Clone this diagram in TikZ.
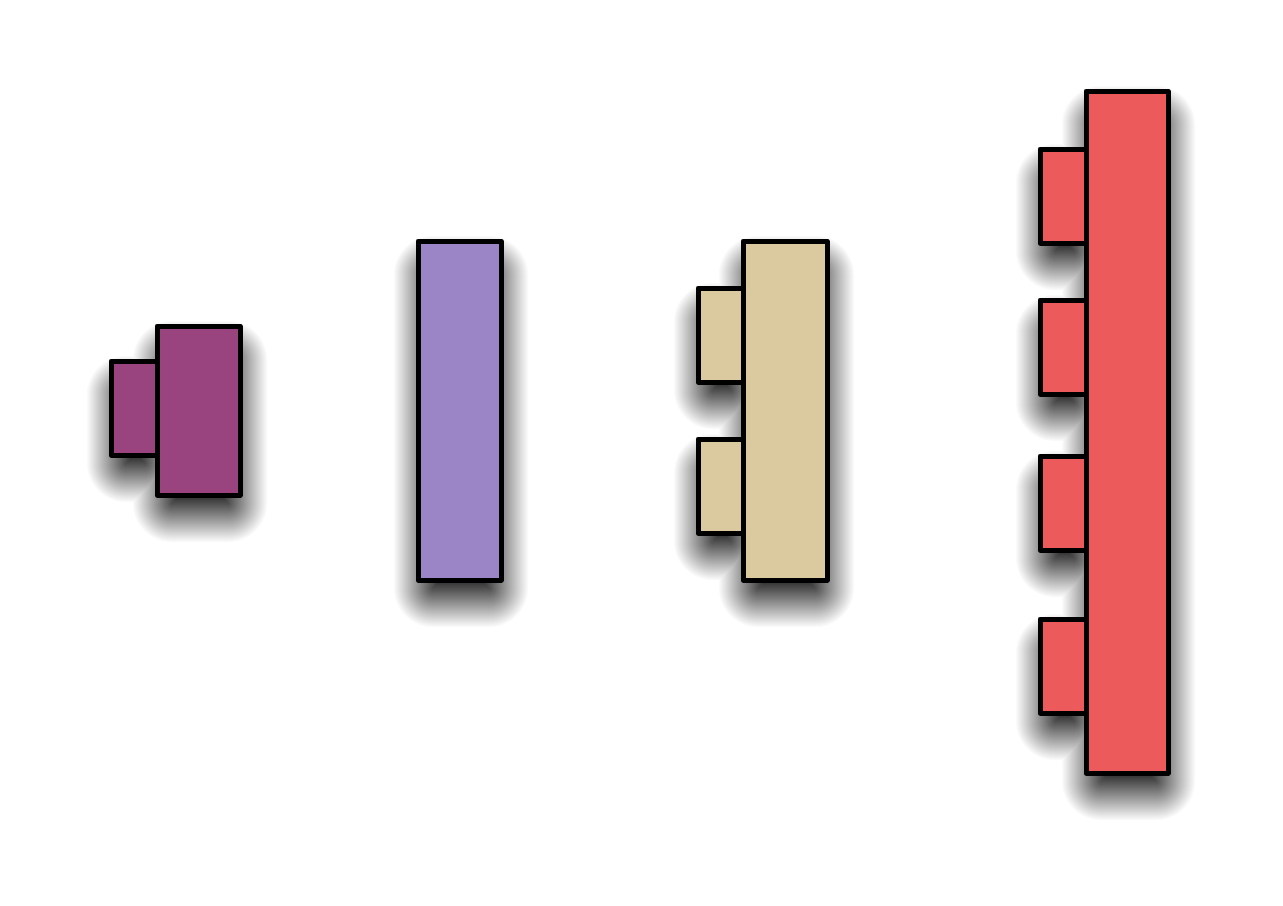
\documentclass[tikz,border=0pt]{standalone}
\definecolor{plum}{HTML}{99437F}
\definecolor{lavender}{HTML}{9B85C7}
\definecolor{tan}{HTML}{DBC99F}
\definecolor{coral}{HTML}{ED5A5C}
\tikzset{block/.style={draw=black, line width=2.5pt, line join=round}}
% soft drop shadow: opaque grey layers from outside in (box-blur-like linear profile)
\newcommand\softshadow[1]{%
  \foreach \d in {26,25,...,-20}{%
    \pgfmathsetmacro\rr{max(\d+15,0)*0.5}%
    \pgfmathsetmacro\pc{min(88,max(0,88*(25-\d)/50))}%
    \fill[black!\pc,rounded corners=\rr pt]
      \foreach \xa/\ya/\xb/\yb in {#1}{
        (\xa-\d,\ya-\d+19) rectangle (\xb+\d+3,\yb+\d+23)
      };
  }%
}
\begin{document}
\begin{tikzpicture}[x=0.5pt,y=-0.5pt]
\useasboundingbox[fill=white] (0,0) rectangle (1283,905);
% shadows
\softshadow{111/361/157/455,157/326/240/495}
\softshadow{418/241/501/580}
\softshadow{698/288/743/382,698/439/743/533,743/241/827/580}
\softshadow{1040/149/1086/243,1040/300/1086/394,1040/456/1086/550,1040/619/1086/713,1086/91/1168/773}
% shape 1
\draw[block,fill=plum] (111,361) rectangle (157,455);
\draw[block,fill=plum] (157,326) rectangle (240,495);
% shape 2
\draw[block,fill=lavender] (418,241) rectangle (501,580);
% shape 3
\draw[block,fill=tan] (698,288) rectangle (743,382);
\draw[block,fill=tan] (698,439) rectangle (743,533);
\draw[block,fill=tan] (743,241) rectangle (827,580);
% shape 4
\draw[block,fill=coral] (1040,149) rectangle (1086,243);
\draw[block,fill=coral] (1040,300) rectangle (1086,394);
\draw[block,fill=coral] (1040,456) rectangle (1086,550);
\draw[block,fill=coral] (1040,619) rectangle (1086,713);
\draw[block,fill=coral] (1086,91) rectangle (1168,773);
\end{tikzpicture}
\end{document}
